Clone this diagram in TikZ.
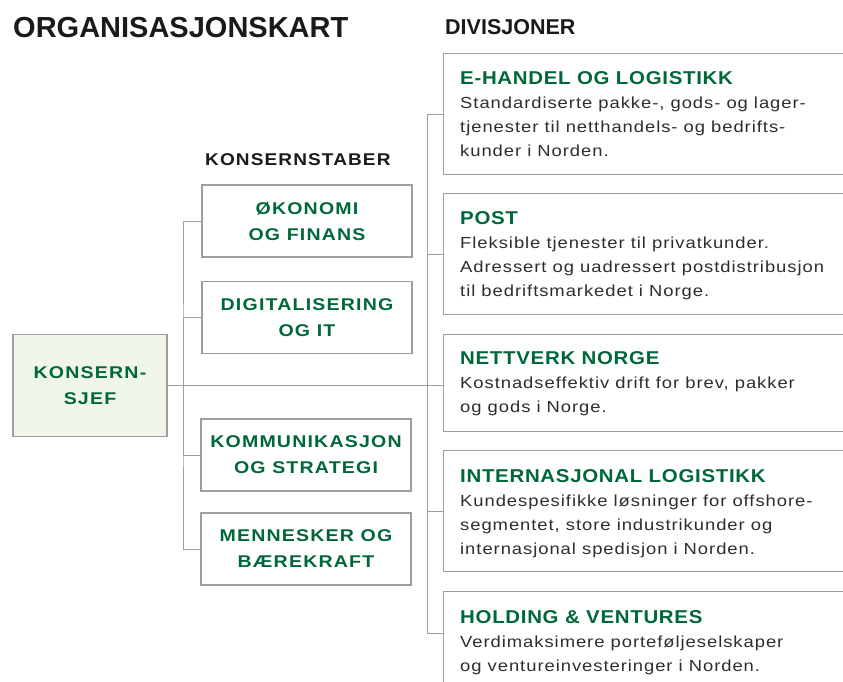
\documentclass[tikz,border=0pt]{standalone}
\usepackage{fontspec}
\setmainfont{Liberation Sans}
\newfontfamily\labelfont{Liberation Sans}[FakeStretch=1.15,LetterSpace=7]
\newfontfamily\headfont{Liberation Sans}[FakeStretch=1.12,LetterSpace=6.5]
\newfontfamily\divfont{Liberation Sans}[FakeStretch=1.1,LetterSpace=3.7]
\newfontfamily\bodyfont{Liberation Sans}[FakeStretch=1.15,LetterSpace=6]
\definecolor{postgreen}{RGB}{0,104,56}
\definecolor{linegray}{RGB}{158,158,158}
\definecolor{textgray}{RGB}{45,45,45}
\definecolor{headblack}{RGB}{26,26,26}
\definecolor{sjeffill}{RGB}{240,245,233}
\tikzset{
  stabbox/.style={draw=linegray,line width=1.2pt,minimum width=210pt,minimum height=72pt,align=center,inner sep=0pt,text=postgreen,font=\labelfont\bfseries\fontsize{17}{26}\selectfont},
  divbox/.style={draw=linegray,line width=1.2pt,minimum width=420pt,anchor=north west,inner sep=0pt},
  divtext/.style={anchor=north west,align=left,inner sep=0pt,text=textgray,font=\bodyfont\fontsize{16}{24}\selectfont},
  link/.style={draw=linegray,line width=1pt},
  heading/.style={anchor=base west,inner sep=0pt,text=headblack,font=\bfseries\fontsize{#1}{#1}\selectfont}
}
\newcommand{\divtitle}[1]{\strut{\divfont\bfseries\fontsize{18.6}{24}\selectfont\color{postgreen}#1}}
\begin{document}
\begin{tikzpicture}[x=1pt,y=-1pt]
\useasboundingbox (0,0) rectangle (843,682);
\node[heading=29] (title) at (13,38) {ORGANISASJONSKART};
\node[heading=21.5] (divhead) at (445,35) {DIVISJONER};
\node[anchor=base west,inner sep=0pt,text=headblack,font=\headfont\bfseries\fontsize{17}{17}\selectfont] (stabhead) at (205,165) {KONSERNSTABER};

\node[stabbox,fill=sjeffill,minimum width=154pt,minimum height=102pt] (sjef) at (90,385.5) {KONSERN-\\SJEF};
\node[stabbox] (okonomi) at (307,221) {ØKONOMI\\OG FINANS};
\node[stabbox] (digital) at (307,317.5) {DIGITALISERING\\OG IT};
\node[stabbox] (kommunikasjon) at (306,455) {KOMMUNIKASJON\\OG STRATEGI};
\node[stabbox] (mennesker) at (306,549) {MENNESKER OG\\BÆREKRAFT};

\node[divbox,minimum height=121pt] (ehandel) at (443,53) {};
\node[divbox,minimum height=121pt] (post) at (443,193) {};
\node[divbox,minimum height=97pt] (nettverk) at (443,334) {};
\node[divbox,minimum height=121pt] (intl) at (443,450) {};
\node[divbox,minimum height=120pt] (holding) at (443,591) {};

\node[divtext] (ehandeltext) at ([xshift=17pt,yshift=-14.7pt]ehandel.north west) {\divtitle{E-HANDEL OG LOGISTIKK}\\Standardiserte pakke-, gods- og lager-\\tjenester til netthandels- og bedrifts-\\kunder i Norden.};
\node[divtext] (posttext) at ([xshift=17pt,yshift=-14.7pt]post.north west) {\divtitle{POST}\\Fleksible tjenester til privatkunder.\\Adressert og uadressert postdistribusjon\\til bedriftsmarkedet i Norge.};
\node[divtext] (nettverktext) at ([xshift=17pt,yshift=-13.7pt]nettverk.north west) {\divtitle{NETTVERK NORGE}\\Kostnadseffektiv drift for brev, pakker\\og gods i Norge.};
\node[divtext] (intltext) at ([xshift=17pt,yshift=-15.2pt]intl.north west) {\divtitle{INTERNASJONAL LOGISTIKK}\\Kundespesifikke løsninger for offshore-\\segmentet, store industrikunder og\\internasjonal spedisjon i Norden.};
\node[divtext] (holdingtext) at ([xshift=17pt,yshift=-15.2pt]holding.north west) {\divtitle{HOLDING \& VENTURES}\\Verdimaksimere porteføljeselskaper\\og ventureinvesteringer i Norden.};

\coordinate (stabjoint) at (183,385.5);
\coordinate (divjoint) at (427,385.5);
\draw[link] (sjef.east) -- (sjef.east -| nettverk.west);
\draw[link] (okonomi.west) -| (stabjoint) |- (mennesker.west);
\draw[link] (digital.west) -| (stabjoint);
\draw[link] (kommunikasjon.west) -| (stabjoint);
\draw[link] (ehandel.west) -| (divjoint) |- ([yshift=-42pt]holding.north west);
\draw[link] (post.west) -| (divjoint);
\draw[link] (intl.west) -| (divjoint);
\end{tikzpicture}
\end{document}
